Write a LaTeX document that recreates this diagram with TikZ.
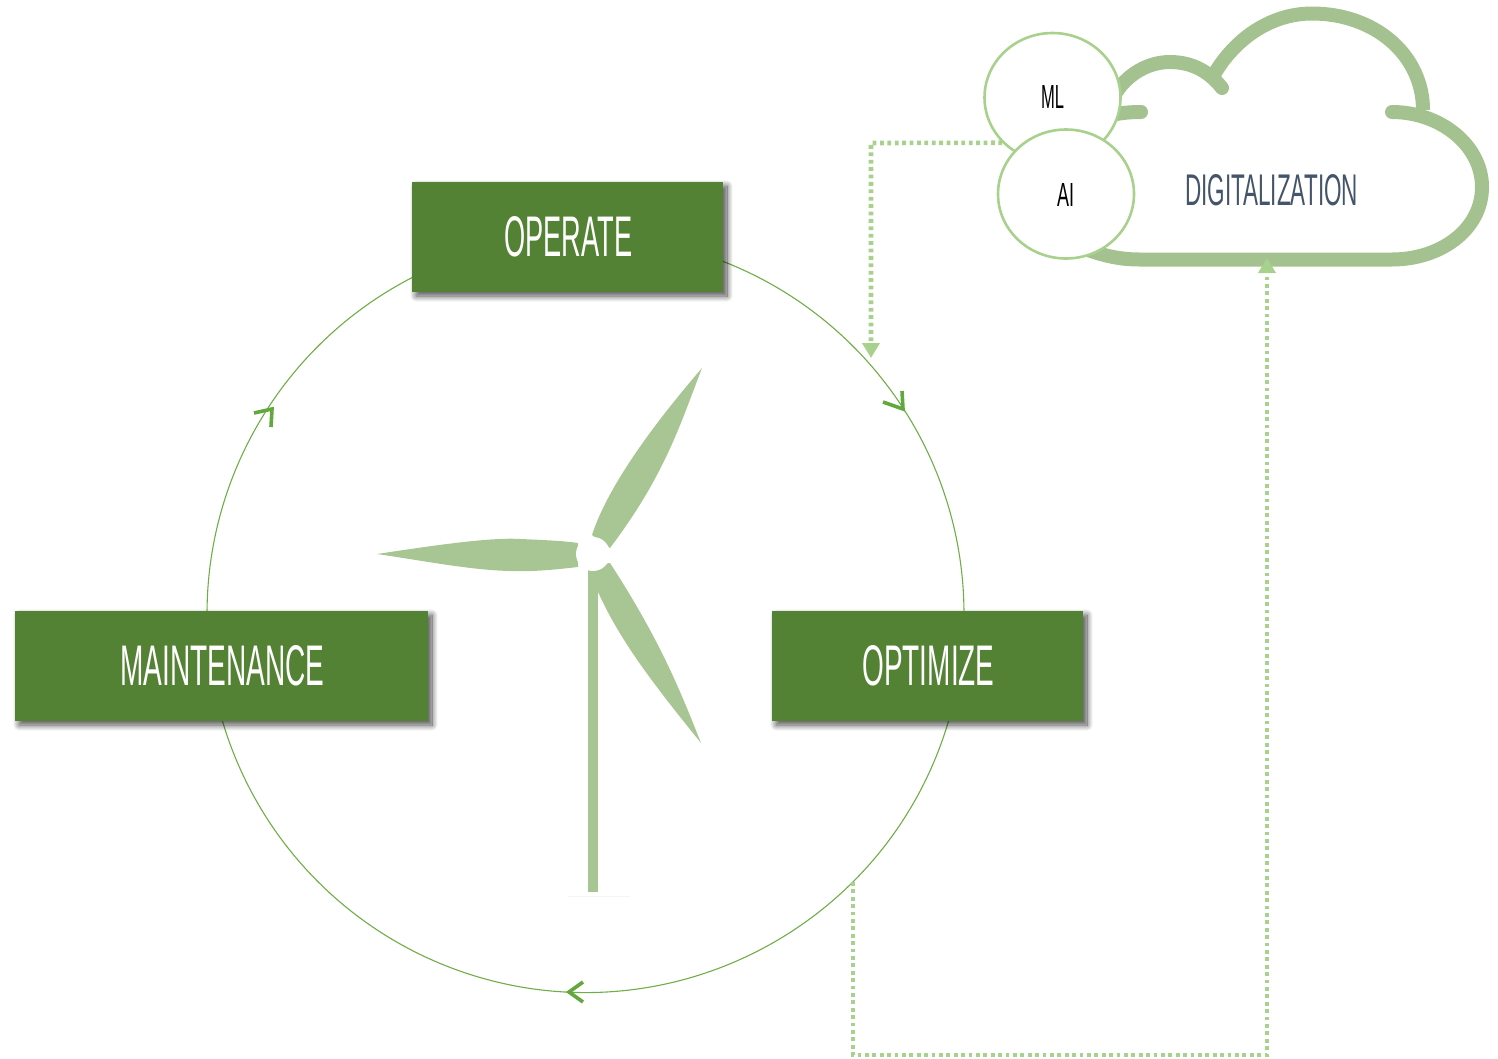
\documentclass[tikz,border=0pt]{standalone}
\usepackage{fontspec}
\usepackage{graphicx}
\setsansfont{Liberation Sans}
\usetikzlibrary{arrows.meta,shadows.blur,shapes.geometric}
\definecolor{boxgreen}{HTML}{548235}
\definecolor{cyclegreen}{HTML}{70AD47}
\definecolor{chevgreen}{HTML}{62A83E}
\definecolor{cloudgreen}{HTML}{A3C28F}
\definecolor{bladegreen}{HTML}{A8C594}
\definecolor{dotgreen}{HTML}{A9D18E}
\definecolor{slate}{HTML}{44546A}
\newcommand{\condtext}[3]{\resizebox{#1pt}{#2pt}{\sffamily #3}}
\newcommand{\boxtext}[3]{\kern2pt\raisebox{-1pt}{\condtext{#1}{#2}{#3}}}
\tikzset{
  box/.style={fill=boxgreen,inner sep=0pt,text=white,
    blur shadow={shadow xshift=4pt,shadow yshift=-4pt,shadow blur steps=16,shadow blur radius=6pt,shadow opacity=70}},
  cycleline/.style={draw=cyclegreen,line width=1.1pt},
  chev/.style={draw=chevgreen,line width=3.6pt,line join=miter},
  cloudline/.style={draw=cloudgreen,line width=14pt,line cap=round},
  blade/.style={fill=bladegreen,draw=none},
  dotline/.style={draw=dotgreen,line width=4.6pt,dash pattern=on 3.8pt off 3.6pt,
    -{Triangle[width=17pt,length=15pt,fill=dotgreen]}},
  badge/.style={ellipse,draw=dotgreen,line width=2.6pt,fill=white,minimum width=136pt,minimum height=129pt,inner sep=0pt},
}
\begin{document}
\begin{tikzpicture}[x=1pt,y=-1pt]
\useasboundingbox (0,0) rectangle (1498,1058);
% cycle arcs
\coordinate (ringc) at (585.5,614);
\draw[cycleline] (585.5,614) ++(-68.7:378.5) arc[start angle=-68.7,end angle=-0.5,radius=378.5];
\draw[cycleline] (585.5,614) ++(16.4:378.5) arc[start angle=16.4,end angle=163.6,radius=378.5];
\draw[cycleline] (585.5,614) ++(179.5:378.5) arc[start angle=179.5,end angle=243,radius=378.5];
% chevrons
\draw[chev] (883,402) -- (903,409) -- (902,391);
\draw[chev] (583,982) -- (569,992) -- (583,1002);
\draw[chev] (254,413) -- (272,409) -- (271,427);
% turbine
\draw[draw=black!4,line width=1pt] (568,896) -- (630,896);
\fill[blade] (588,560) rectangle (598,892);
\fill[blade] (702,368) .. controls (680,425) and (665,475) .. (610,548) -- (592,535) .. controls (605,495) and (640,440) .. (702,368) -- cycle;
\fill[blade] (377,554) .. controls (430,546) and (490,537) .. (520,539) .. controls (545,540) and (565,541) .. (578,543) -- (578,567) .. controls (560,569) and (535,572) .. (510,571) .. controls (470,570) and (425,561) .. (377,554) -- cycle;
\fill[blade] (701,743) .. controls (680,690) and (660,640) .. (610,563) -- (595,565) -- (598,592) .. controls (620,640) and (650,680) .. (701,743) -- cycle;
\fill[white] (593,554) circle[radius=17];
% boxes
\node[box,minimum width=311pt,minimum height=110pt] (operate) at (567.5,237) {\boxtext{128}{40}{OPERATE}};
\node[box,minimum width=311pt,minimum height=110pt] (optimize) at (927.5,666) {\boxtext{132}{40}{OPTIMIZE}};
\node[box,minimum width=413pt,minimum height=110pt] (maintenance) at (221.5,666) {\boxtext{204}{40}{MAINTENANCE}};
% cloud
\draw[cloudline,line cap=butt] (1211,80) .. controls (1232,40) and (1270,13.5) .. (1312,13.5) .. controls (1375,13.5) and (1423,55) .. (1423,110);
\draw[cloudline] (1222,88) .. controls (1208,70) and (1190,62) .. (1170,62) .. controls (1145,62) and (1122,78) .. (1112,100);
\draw[cloudline] (1141,112) .. controls (1130,112) and (1120,113) .. (1112,115);
\draw[cloudline] (1392,112) .. controls (1440,112) and (1482,145) .. (1482,187) .. controls (1482,230) and (1440,259.5) .. (1392,259.5) -- (1140,259.5) .. controls (1120,259.5) and (1105,256) .. (1085,249);
\node[text=slate,inner sep=0pt] (digital) at (1271.5,190.5) {\condtext{173}{31}{DIGITALIZATION}};
% badges
\node[badge] (ml) at (1052.5,97.5) {};
\coordinate (mlcorner) at (871,143);
\coordinate (cycletop) at (871,358);
\draw[dotline] (ml.222) -- (mlcorner) -- (cycletop);
\coordinate (cyclelow) at (853,882);
\coordinate (lowa) at (853,1055);
\coordinate (lowb) at (1267,1055);
\coordinate (cloudbottom) at (1267,258);
\draw[dotline] (cyclelow) -- (lowa) -- (lowb) -- (cloudbottom);
\node[badge] (ai) at (1066,194) {};
\node[text=black,inner sep=0pt] (mltext) at (1052.5,96.5) {\condtext{23}{23}{ML}};
\node[text=black,inner sep=0pt] (aitext) at (1065.5,194.5) {\condtext{17}{23}{AI}};
\end{tikzpicture}
\end{document}
